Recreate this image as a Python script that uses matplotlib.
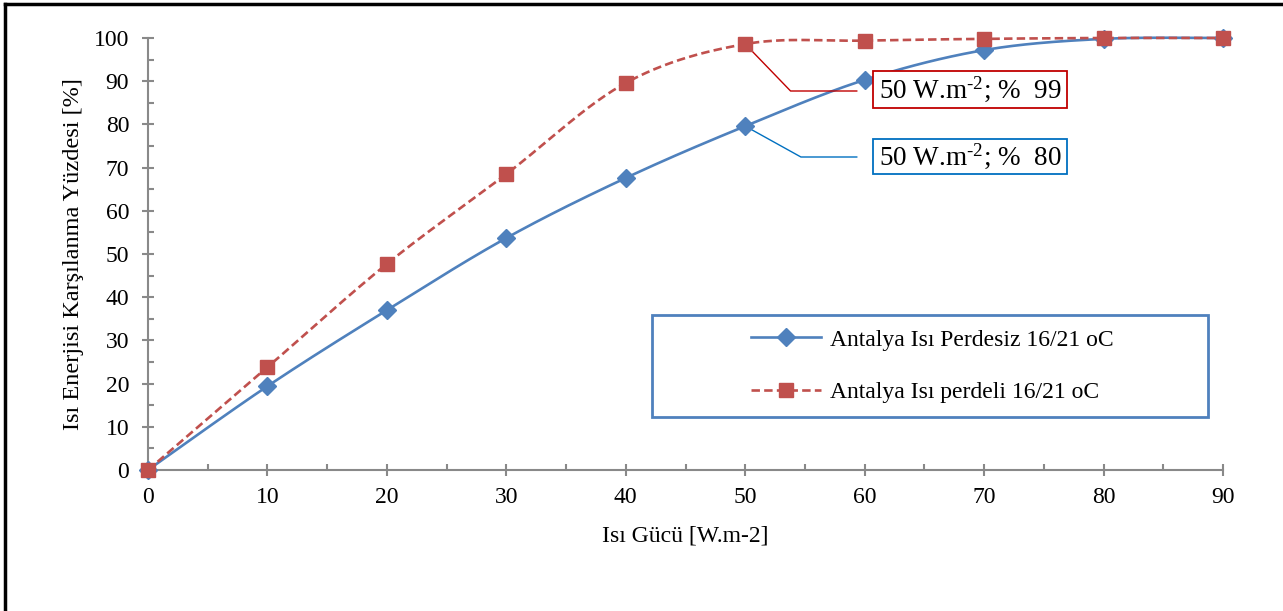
import numpy as np
import matplotlib
matplotlib.use('Agg')
import matplotlib.pyplot as plt
from matplotlib.lines import Line2D
from matplotlib.patches import Rectangle

plt.rcParams['font.family'] = 'Liberation Serif'
plt.rcParams['mathtext.fontset'] = 'custom'
plt.rcParams['mathtext.rm'] = 'Liberation Serif'
plt.rcParams['mathtext.default'] = 'rm'

# data
guc = [0, 10, 20, 30, 40, 50, 60, 70, 80, 90]
perdesiz = [0, 19.4, 37.0, 53.7, 67.6, 79.6, 90.3, 97.2, 99.8, 100]
perdeli = [0, 23.8, 47.7, 68.5, 89.6, 98.6, 99.4, 99.8, 100, 100]

lab_perdesiz = 'Antalya Isı Perdesiz 16/21 oC'
lab_perdeli = 'Antalya Isı perdeli 16/21 oC'

blue = '#4f81bd'
red = '#c0504d'
grey = '#898989'
dash = (0, (3.2, 1.6))


def smooth(x, y, n=30):
    # excel-like smoothed line: bezier through the points
    x = np.asarray(x, float)
    y = np.asarray(y, float)
    px = np.concatenate([[x[0]], x, [x[-1]]])
    py = np.concatenate([[y[0]], y, [y[-1]]])
    t = np.linspace(0, 1, n)[:, None]
    xs, ys = [], []
    for i in range(len(x) - 1):
        p0 = np.array([x[i], y[i]])
        p3 = np.array([x[i + 1], y[i + 1]])
        p1 = p0 + (np.array([px[i + 2], py[i + 2]]) - np.array([px[i], py[i]])) / 6
        p2 = p3 - (np.array([px[i + 3], py[i + 3]]) - np.array([px[i + 1], py[i + 1]])) / 6
        b = ((1 - t) ** 3) * p0 + 3 * ((1 - t) ** 2) * t * p1 + 3 * (1 - t) * t ** 2 * p2 + t ** 3 * p3
        xs.append(b[:, 0])
        ys.append(b[:, 1])
    return np.concatenate(xs), np.concatenate(ys)


W, H = 1283, 611
fig = plt.figure(figsize=(W / 100, H / 100), dpi=100)
ax = fig.add_axes([148 / W, 1 - 470 / H, 1075 / W, 432 / H])

sx, sy = smooth(guc, perdesiz)
ax.plot(sx, sy, color=blue, lw=1.9, clip_on=False, zorder=3)
ax.plot(guc, perdesiz, ls='none', marker='D', ms=9, color=blue, clip_on=False, zorder=4)
rx, ry = smooth(guc, perdeli)
ax.plot(rx, ry, color=red, lw=1.9, ls=dash, clip_on=False, zorder=5)
ax.plot(guc, perdeli, ls='none', marker='s', ms=10.5, color=red, clip_on=False, zorder=6)

ax.set_xlim(0, 90)
ax.set_ylim(0, 100)
ax.set_xticks(np.arange(0, 91, 10))
ax.set_xticks(np.arange(0, 91, 5), minor=True)
ax.set_yticks(np.arange(0, 101, 10))
ax.set_yticks(np.arange(0, 101, 5), minor=True)

for s in ['top', 'right']:
    ax.spines[s].set_visible(False)
for s in ['left', 'bottom']:
    ax.spines[s].set_color(grey)
    ax.spines[s].set_linewidth(1.5)

ax.tick_params(which='major', direction='inout', length=9, width=1.5, color=grey,
               labelsize=17)
ax.tick_params(axis='y', which='major', pad=9)
ax.tick_params(axis='x', which='major', pad=8)
ax.tick_params(which='minor', direction='in', length=4.5, width=1.5, color=grey)

ax.set_xlabel('Isı Gücü [W.m-2]', fontsize=17, labelpad=12)
ax.set_ylabel('Isı Enerjisi Karşılanma Yüzdesi [%]', fontsize=17.5, labelpad=7)

# legend inside its own box
fig.add_artist(Rectangle((652 / W, 1 - 417 / H), 556 / W, 102 / H,
                         transform=fig.transFigure, fill=False, ec=blue, lw=2))
h1 = Line2D([], [], color=blue, lw=1.9, marker='D', ms=9)
h2 = Line2D([], [], color=red, lw=1.9, ls=dash, marker='s', ms=10.5)
fig.legend([h1, h2], [lab_perdesiz, lab_perdeli], loc='center',
           bbox_to_anchor=(932 / W, 1 - 366 / H), frameon=False,
           fontsize=17, handlelength=3.0, handletextpad=0.35, labelspacing=1.3)

# data labels at 50 W.m-2
ax.annotate('', xy=(50, perdeli[5]), xycoords='data',
            xytext=(857, H - 91), textcoords='figure pixels',
            arrowprops=dict(arrowstyle='-', color='#c00000', lw=1,
                            shrinkA=0, shrinkB=0,
                            connectionstyle='angle,angleA=0,angleB=-46'))
ax.annotate('', xy=(50, perdesiz[5]), xycoords='data',
            xytext=(857, H - 157), textcoords='figure pixels',
            arrowprops=dict(arrowstyle='-', color='#0070c0', lw=1,
                            shrinkA=0, shrinkB=0,
                            connectionstyle='angle,angleA=0,angleB=-29'))

for top, bottom, txt, ec in [(71, 108, '50 W.m$^{\\text{-}2}$; %  99', '#c00000'),
                             (139, 174, '50 W.m$^{\\text{-}2}$; %  80', '#0070c0')]:
    fig.add_artist(Rectangle((873 / W, 1 - bottom / H), 194 / W, (bottom - top) / H,
                             transform=fig.transFigure, fc='white', ec=ec, lw=1.3,
                             zorder=7))
    fig.text(970 / W, 1 - (top + bottom) / 2 / H, txt, fontsize=19.5,
             ha='center', va='center', zorder=8)

# outer frame of the page
fig.add_artist(Line2D([5 / W, 1], [1 - 4 / H, 1 - 4 / H], color='black', lw=2.5,
                      transform=fig.transFigure))
fig.add_artist(Line2D([5 / W, 5 / W], [0, 1 - 4 / H], color='black', lw=2.5,
                      transform=fig.transFigure))

fig.savefig('out.png', dpi=100)
